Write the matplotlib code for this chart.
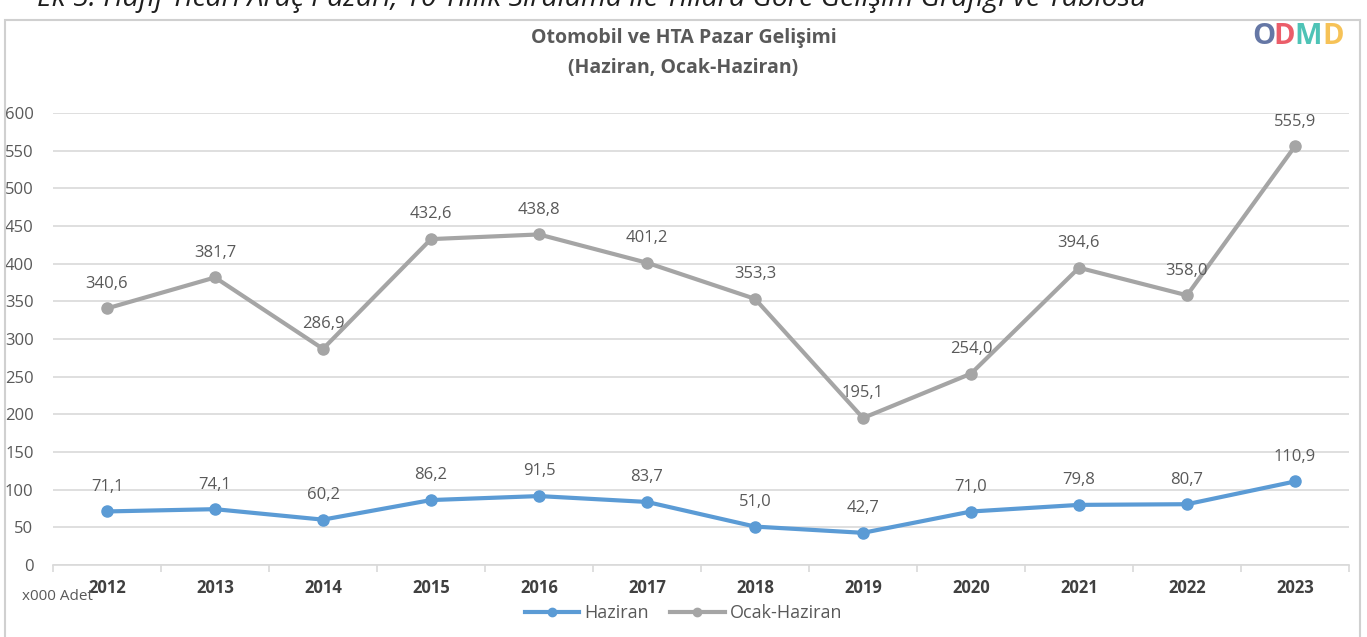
import matplotlib.pyplot as plt
from matplotlib.patches import Rectangle

plt.rcParams['font.family'] = ['Open Sans', 'DejaVu Sans']

years = ['2012', '2013', '2014', '2015', '2016', '2017',
         '2018', '2019', '2020', '2021', '2022', '2023']
haziran = [71.1, 74.1, 60.2, 86.2, 91.5, 83.7, 51.0, 42.7, 71.0, 79.8, 80.7, 110.9]
ocak_haziran = [340.6, 381.7, 286.9, 432.6, 438.8, 401.2, 353.3, 195.1, 254.0, 394.6, 358.0, 555.9]
yticks = list(range(0, 601, 50))

blue = '#5B9BD5'
grey = '#A5A5A5'
txt = '#595959'

fig = plt.figure(figsize=(13.67, 6.37), dpi=100)
ax = fig.add_axes([53 / 1367, 72 / 637, 1296 / 1367, 452 / 637])

x = list(range(len(years)))
ax.plot(x, haziran, color=blue, lw=3, marker='o', ms=8, label='Haziran', zorder=3)
ax.plot(x, ocak_haziran, color=grey, lw=3, marker='o', ms=8, label='Ocak-Haziran', zorder=3)

for series in (haziran, ocak_haziran):
    for xi, v in zip(x, series):
        ax.annotate(f'{v:.1f}'.replace('.', ','), (xi, v), xytext=(0, 12),
                    textcoords='offset points', ha='center', va='bottom',
                    fontsize=12, color=txt)

ax.set_xlim(-0.5, len(years) - 0.5)
ax.set_ylim(0, 600)
ax.set_yticks(yticks)
ax.set_yticklabels([str(t) for t in yticks], fontsize=12, color=txt)
ax.set_xticks(x)
ax.set_xticklabels(years, fontsize=12, fontweight='bold', color='#404040')
ax.tick_params(axis='y', length=0, pad=14)
ax.tick_params(axis='x', length=0, pad=10)
ax.set_xticks([i - 0.5 for i in range(len(years) + 1)], minor=True)
ax.tick_params(axis='x', which='minor', length=5, color='#D9D9D9', width=1.2)
ax.grid(axis='y', color='#D9D9D9', lw=1.2)
ax.set_axisbelow(True)
for s in ['top', 'right', 'left']:
    ax.spines[s].set_visible(False)
ax.spines['bottom'].set_color('#D9D9D9')
ax.spines['bottom'].set_linewidth(1.2)

fig.text(22 / 1367, 1 - 597 / 637, 'x000 Adet', fontsize=11, color=txt, va='center')

fig.text(0.5, 1 - 38 / 637, 'Otomobil ve HTA Pazar Gelişimi', ha='center', va='center',
         fontsize=14, fontweight='bold', color=txt)
fig.text(0.5, 1 - 68 / 637, '(Haziran, Ocak-Haziran)', ha='center', va='center',
         fontsize=14, fontweight='bold', color=txt)

fig.legend(loc='center', bbox_to_anchor=(0.5, 1 - 613 / 637), ncol=2, frameon=False,
           fontsize=13, labelcolor=txt, handlelength=3, columnspacing=1.2,
           handletextpad=0.3, markerscale=0.75)

# frame around chart
fig.patches.append(Rectangle((5 / 1367, -0.05), 1355 / 1367, 1.05 - 20 / 637,
                             transform=fig.transFigure, fill=False,
                             ec='#D0D0D0', lw=1.5))

# clipped heading above the chart
fig.text(37 / 1367, 1 - 6 / 637,
         'Ek 5: Hafif Ticari Araç Pazarı, 10 Yıllık Sıralama ile Yıllara Göre Gelişim Grafiği ve Tablosu',
         fontsize=20.5, style='italic', color='#1F1F1F', va='baseline')

# logo
logo = [('O', '#4A5F96', 1252), ('D', '#E8414F', 1273), ('M', '#2FB9A9', 1294), ('D', '#F5B83A', 1322)]
for ch, c, px in logo:
    fig.text(px / 1367, 1 - 36 / 637, ch, fontsize=21, fontweight='bold', color=c,
             alpha=0.85, va='center', ha='left')

fig.savefig('out.png', dpi=100)
